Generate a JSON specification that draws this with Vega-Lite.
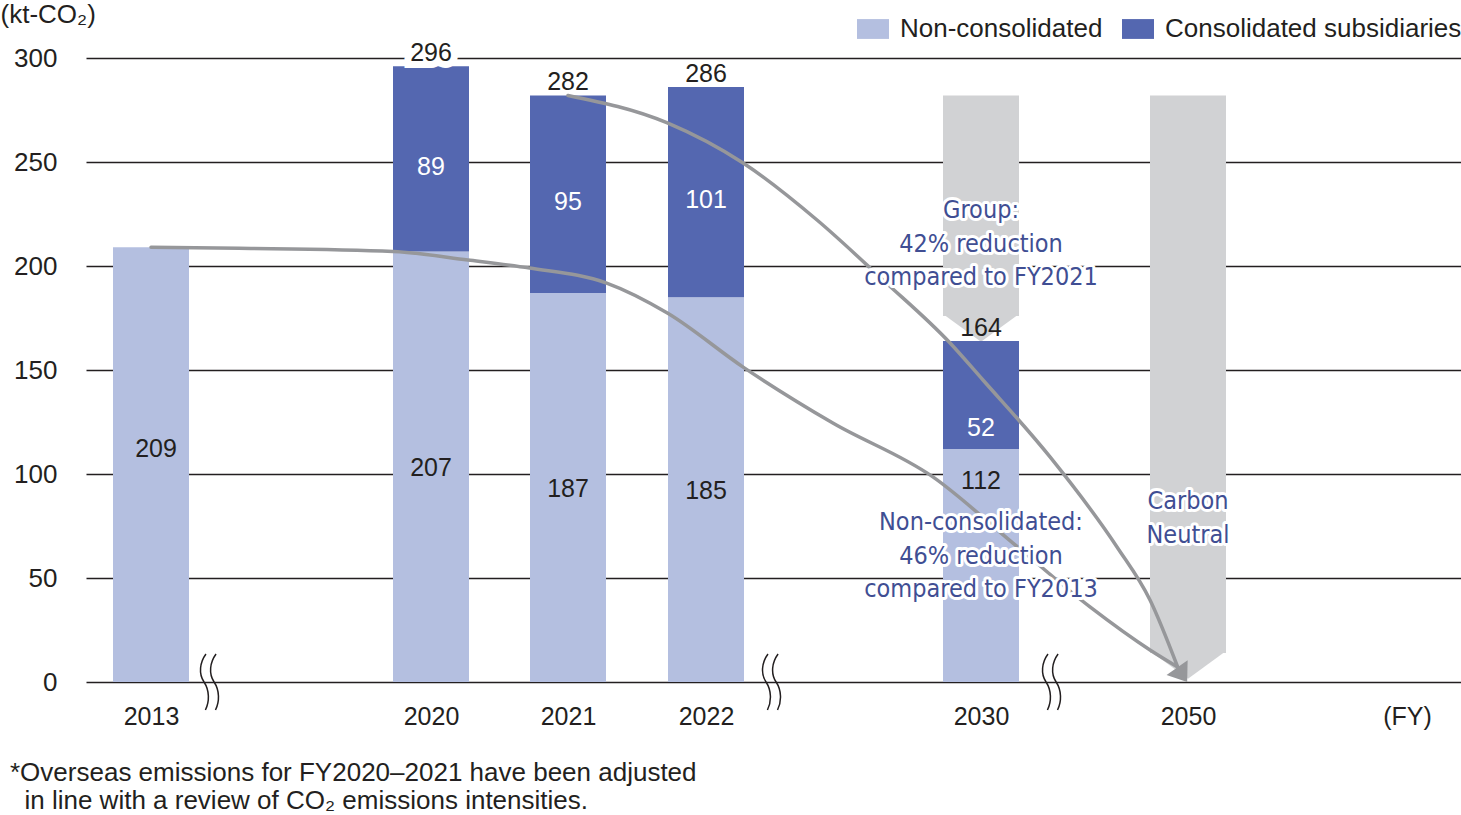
{
  "$schema": "https://vega.github.io/schema/vega-lite/v6.json",
  "width": 1375,
  "height": 624,
  "autosize": {"type": "none"},
  "padding": {"left": 86, "top": 58, "right": 0, "bottom": 133},
  "background": "white",
  "config": {"view": {"stroke": null}, "font": "Liberation Sans"},
  "title": {
    "text": ["*Overseas emissions for FY2020–2021 have been adjusted", "\u200b\u00a0\u00a0in line with a review of CO₂ emissions intensities."],
    "orient": "bottom",
    "anchor": "start",
    "frame": "group",
    "dx": -76,
    "offset": 31,
    "fontSize": 26,
    "fontWeight": "normal",
    "font": "Liberation Sans",
    "color": "#231f20",
    "lineHeight": 28
  },
  "datasets": {
    "bars": [
      {"year": 2013, "series": "Non-consolidated", "value": 209},
      {"year": 2020, "series": "Non-consolidated", "value": 207},
      {"year": 2020, "series": "Consolidated subsidiaries", "value": 89},
      {"year": 2021, "series": "Non-consolidated", "value": 187},
      {"year": 2021, "series": "Consolidated subsidiaries", "value": 95},
      {"year": 2022, "series": "Non-consolidated", "value": 185},
      {"year": 2022, "series": "Consolidated subsidiaries", "value": 101},
      {"year": 2030, "series": "Non-consolidated", "value": 112},
      {"year": 2030, "series": "Consolidated subsidiaries", "value": 52}
    ],
    "targets": [
      {"year": 2030, "top": 282, "bottom": 176},
      {"year": 2050, "top": 282, "bottom": 14}
    ],
    "curves": [
      {"curve": "Non-consolidated", "year": 2013, "value": 209},
      {"curve": "Non-consolidated", "year": 2015.2, "value": 208.5},
      {"curve": "Non-consolidated", "year": 2019.05, "value": 207},
      {"curve": "Non-consolidated", "year": 2020.27, "value": 202.9},
      {"curve": "Non-consolidated", "year": 2020.72, "value": 199},
      {"curve": "Non-consolidated", "year": 2021.28, "value": 191.8},
      {"curve": "Non-consolidated", "year": 2021.72, "value": 177.4},
      {"curve": "Non-consolidated", "year": 2023.08, "value": 151.4},
      {"curve": "Non-consolidated", "year": 2025.69, "value": 124.5},
      {"curve": "Non-consolidated", "year": 2028.6, "value": 98.6},
      {"curve": "Non-consolidated", "year": 2033.09, "value": 66.8},
      {"curve": "Non-consolidated", "year": 2040.53, "value": 36.1},
      {"curve": "Non-consolidated", "year": 2046.33, "value": 15.4},
      {"curve": "Non-consolidated", "year": 2049.0, "value": 7.2},
      {"curve": "Group", "year": 2021, "value": 282},
      {"curve": "Group", "year": 2021.72, "value": 268.8},
      {"curve": "Group", "year": 2023.08, "value": 249.5},
      {"curve": "Group", "year": 2025.23, "value": 222.1},
      {"curve": "Group", "year": 2027.15, "value": 193.3},
      {"curve": "Group", "year": 2029.1, "value": 163},
      {"curve": "Group", "year": 2030.19, "value": 145.2},
      {"curve": "Group", "year": 2036.67, "value": 108.2},
      {"curve": "Group", "year": 2043.14, "value": 64.9},
      {"curve": "Group", "year": 2046.33, "value": 39.4},
      {"curve": "Group", "year": 2049.0, "value": 7.2}
    ],
    "arrow": [{"year": 2049.27, "value": 4.6}],
    "breaks": [
      {"year": 2014.5, "value": 0},
      {"year": 2023.95, "value": 0},
      {"year": 2036.96, "value": 0}
    ],
    "notes": [
      {"year": 2030, "value": 226.9, "text": "Group:\n42% reduction\ncompared to FY2021"},
      {"year": 2030, "value": 76.9, "text": "Non-consolidated:\n46% reduction\ncompared to FY2013"},
      {"year": 2050, "value": 87.0, "text": "Carbon\nNeutral"}
    ]
  },
  "layer": [
    {
      "data": {"name": "targets"},
      "mark": {"type": "bar", "width": 76, "color": "#d1d2d4"},
      "encoding": {
        "x": {
          "field": "year",
          "type": "quantitative",
          "scale": {"domain": [2011.375, 2013, 2020, 2021, 2022, 2030, 2050, 2076.38], "range": [0, 65, 345, 482, 620, 895, 1102, 1375], "padding": 0, "nice": false, "zero": false},
          "axis": {
            "values": [2013, 2020, 2021, 2022, 2030, 2050],
            "format": "d",
            "grid": false,
            "domain": false,
            "ticks": false,
            "tickSize": 0,
            "labelFontSize": 25,
            "labelColor": "#231f20",
            "labelBaseline": "middle",
            "labelPadding": 34,
            "labelFlush": false,
            "title": "(FY)",
            "titleX": 1321,
            "titleY": 34,
            "titleAlign": "center",
            "titleBaseline": "middle",
            "titleAngle": 0,
            "titleFontSize": 25,
            "titleFontWeight": "normal",
            "titleColor": "#231f20"
          }
        },
        "y": {
          "field": "top",
          "type": "quantitative",
          "scale": {"domain": [0, 300], "nice": false},
          "axis": {
            "values": [0, 50, 100, 150, 200, 250, 300],
            "grid": true,
            "gridColor": "#231f20",
            "gridWidth": 1.3,
            "domain": false,
            "ticks": false,
            "tickSize": 0,
            "labelFontSize": 26,
            "labelColor": "#231f20",
            "labelPadding": 29,
            "labelFlush": false,
            "title": "(kt-CO₂)",
            "titleAngle": 0,
            "titleAlign": "left",
            "titleBaseline": "middle",
            "titleX": -86,
            "titleY": -44,
            "titleFontSize": 26,
            "titleFontWeight": "normal",
            "titleColor": "#231f20"
          }
        },
        "y2": {"field": "bottom"}
      }
    },
    {
      "data": {"name": "targets"},
      "mark": {"type": "point", "shape": "M-1,-0.05L1,-0.05L0,0.68Z", "size": 5776, "filled": true, "color": "#d1d2d4", "opacity": 1, "strokeWidth": 0},
      "encoding": {
        "x": {"field": "year", "type": "quantitative"},
        "y": {"field": "bottom", "type": "quantitative"}
      }
    },
    {
      "data": {"name": "bars"},
      "mark": {"type": "bar", "width": 76},
      "encoding": {
        "x": {"field": "year", "type": "quantitative"},
        "y": {"field": "value", "type": "quantitative", "stack": "zero"},
        "color": {
          "field": "series",
          "type": "nominal",
          "scale": {"domain": ["Non-consolidated", "Consolidated subsidiaries"], "range": ["#b4bfe0", "#5467b0"]},
          "legend": {
            "orient": "none",
            "legendX": 771,
            "legendY": -45,
            "direction": "horizontal",
            "title": null,
            "padding": 0,
            "symbolType": "M-1,-0.62H1V0.62H-1Z",
            "symbolSize": 1024,
            "symbolStrokeWidth": 0,
            "symbolOpacity": 1,
            "labelFontSize": 26,
            "labelColor": "#231f20",
            "labelOffset": 11,
            "columnPadding": 19,
            "labelLimit": 400
          }
        },
        "order": {"field": "series", "sort": "descending"}
      }
    },
    {
      "data": {"name": "curves"},
      "mark": {"type": "line", "interpolate": "monotone", "color": "#96979a", "strokeWidth": 3.5, "strokeCap": "round"},
      "encoding": {
        "x": {"field": "year", "type": "quantitative"},
        "y": {"field": "value", "type": "quantitative"},
        "detail": {"field": "curve", "type": "nominal"}
      }
    },
    {
      "data": {"name": "arrow"},
      "mark": {"type": "point", "shape": "M0,-1L1.1,0.5L-1.1,0.5Z", "size": 548, "angle": 145, "filled": true, "color": "#96979a", "opacity": 1, "strokeWidth": 0},
      "encoding": {
        "x": {"field": "year", "type": "quantitative"},
        "y": {"field": "value", "type": "quantitative"}
      }
    },
    {
      "data": {"name": "breaks"},
      "mark": {"type": "point", "shape": "M-0.18,-1C-0.4,-0.7,-0.45,-0.3,-0.25,0C-0.05,0.3,-0.05,0.7,-0.2,1M0.18,-1C-0.04,-0.7,-0.09,-0.3,0.11,0C0.31,0.3,0.31,0.7,0.16,1", "size": 3136, "filled": false, "stroke": "#231f20", "strokeWidth": 1.5, "opacity": 1},
      "encoding": {
        "x": {"field": "year", "type": "quantitative"},
        "y": {"field": "value", "type": "quantitative"}
      }
    },
    {
      "data": {"name": "bars"},
      "transform": [
        {"stack": "value", "groupby": ["year"], "sort": [{"field": "series", "order": "descending"}], "as": ["v0", "v1"]},
        {"calculate": "(datum.v0 + datum.v1) / 2", "as": "mid"},
        {"filter": "datum.series == 'Non-consolidated' && datum.year != 2030 && datum.year != 2013"}
      ],
      "mark": {"type": "text", "fontSize": 25, "color": "#231f20", "baseline": "middle", "dy": 1},
      "encoding": {
        "x": {"field": "year", "type": "quantitative"},
        "y": {"field": "mid", "type": "quantitative"},
        "text": {"field": "value"}
      }
    },
    {
      "data": {"name": "bars"},
      "transform": [
        {"stack": "value", "groupby": ["year"], "sort": [{"field": "series", "order": "descending"}], "as": ["v0", "v1"]},
        {"calculate": "(datum.v0 + datum.v1) / 2", "as": "mid"},
        {"filter": "datum.year == 2013"}
      ],
      "mark": {"type": "text", "fontSize": 25, "color": "#231f20", "baseline": "middle", "dx": 5, "dy": -16},
      "encoding": {
        "x": {"field": "year", "type": "quantitative"},
        "y": {"field": "mid", "type": "quantitative"},
        "text": {"field": "value"}
      }
    },
    {
      "data": {"name": "bars"},
      "transform": [
        {"stack": "value", "groupby": ["year"], "sort": [{"field": "series", "order": "descending"}], "as": ["v0", "v1"]},
        {"calculate": "(datum.v0 + datum.v1) / 2", "as": "mid"},
        {"filter": "datum.series == 'Consolidated subsidiaries' && datum.year != 2030"}
      ],
      "mark": {"type": "text", "fontSize": 25, "color": "white", "baseline": "middle", "dy": 8},
      "encoding": {
        "x": {"field": "year", "type": "quantitative"},
        "y": {"field": "mid", "type": "quantitative"},
        "text": {"field": "value"}
      }
    },
    {
      "data": {"name": "bars"},
      "transform": [
        {"stack": "value", "groupby": ["year"], "sort": [{"field": "series", "order": "descending"}], "as": ["v0", "v1"]},
        {"filter": "datum.series == 'Consolidated subsidiaries' && datum.year == 2030"}
      ],
      "mark": {"type": "text", "fontSize": 25, "color": "white", "baseline": "middle", "dy": -21},
      "encoding": {
        "x": {"field": "year", "type": "quantitative"},
        "y": {"field": "v0", "type": "quantitative"},
        "text": {"field": "value"}
      }
    },
    {
      "data": {"name": "bars"},
      "transform": [
        {"stack": "value", "groupby": ["year"], "sort": [{"field": "series", "order": "descending"}], "as": ["v0", "v1"]},
        {"filter": "datum.series == 'Non-consolidated' && datum.year == 2030"}
      ],
      "mark": {"type": "text", "fontSize": 25, "color": "#231f20", "baseline": "middle", "dy": 32},
      "encoding": {
        "x": {"field": "year", "type": "quantitative"},
        "y": {"field": "v1", "type": "quantitative"},
        "text": {"field": "value"}
      }
    },
    {
      "data": {"name": "bars"},
      "transform": [
        {"aggregate": [{"op": "sum", "field": "value", "as": "total"}], "groupby": ["year"]},
        {"filter": "datum.year == 2020"}
      ],
      "mark": {"type": "text", "fontSize": 25, "color": "white", "stroke": "white", "strokeWidth": 14, "baseline": "alphabetic", "dy": -5},
      "encoding": {
        "x": {"field": "year", "type": "quantitative"},
        "y": {"field": "total", "type": "quantitative"},
        "text": {"field": "total"}
      }
    },
    {
      "data": {"name": "bars"},
      "transform": [
        {"aggregate": [{"op": "sum", "field": "value", "as": "total"}], "groupby": ["year"]},
        {"filter": "datum.year != 2013"}
      ],
      "mark": {"type": "text", "fontSize": 25, "color": "#231f20", "baseline": "alphabetic", "dy": -5},
      "encoding": {
        "x": {"field": "year", "type": "quantitative"},
        "y": {"field": "total", "type": "quantitative"},
        "text": {"field": "total"}
      }
    },
    {
      "data": {"name": "notes"},
      "mark": {"type": "text", "font": "'DejaVu Sans Condensed', 'Liberation Sans'", "fontSize": 25, "lineHeight": 33.5, "lineBreak": "\n", "align": "center", "baseline": "middle", "color": "white", "stroke": "white", "strokeWidth": 6, "strokeJoin": "round"},
      "encoding": {
        "x": {"field": "year", "type": "quantitative"},
        "y": {"field": "value", "type": "quantitative"},
        "text": {"field": "text"}
      }
    },
    {
      "data": {"name": "notes"},
      "mark": {"type": "text", "font": "'DejaVu Sans Condensed', 'Liberation Sans'", "fontSize": 25, "lineHeight": 33.5, "lineBreak": "\n", "align": "center", "baseline": "middle", "color": "#404e93"},
      "encoding": {
        "x": {"field": "year", "type": "quantitative"},
        "y": {"field": "value", "type": "quantitative"},
        "text": {"field": "text"}
      }
    }
  ]
}
